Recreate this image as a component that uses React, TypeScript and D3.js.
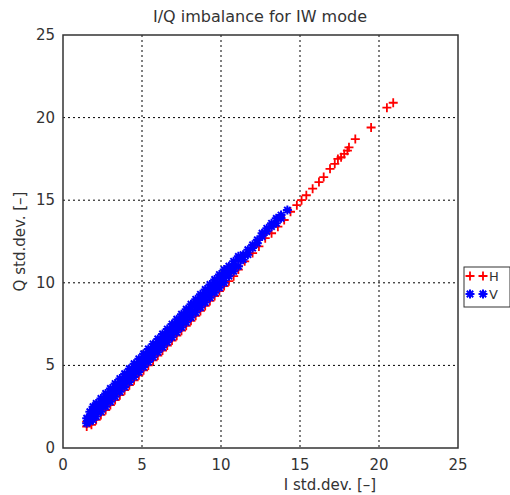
import React from "react";
import * as d3 from "d3";

// rows: [I, Q values...]
const redRows: number[][] = [
  [1.5, 1.3, 1.6], [1.8, 1.4, 1.8], [2.1, 1.7, 2.1], [2.4, 2.0, 2.4], [2.7, 2.3, 2.6],
  [3.0, 2.6, 2.9], [3.3, 2.9, 3.2], [3.6, 3.2, 3.5], [3.9, 3.5, 3.8], [4.2, 3.8, 4.1],
  [4.5, 4.1, 4.4], [4.8, 4.4, 4.7], [5.1, 4.7, 5.0], [5.4, 5.0, 5.3], [5.7, 5.3, 5.6],
  [6.0, 5.6, 5.9], [6.3, 5.9, 6.2], [6.6, 6.2, 6.5], [6.9, 6.5, 6.8], [7.2, 6.8, 7.1],
  [7.5, 7.1, 7.4], [7.8, 7.4, 7.7], [8.1, 7.7, 8.0], [8.4, 8.0, 8.3], [8.7, 8.3, 8.6],
  [9.0, 8.6, 8.9], [9.3, 8.9, 9.2], [9.6, 9.2, 9.5], [9.9, 9.5, 9.8], [10.2, 9.8, 10.1],
  [10.5, 10.1, 10.4], [10.8, 10.4, 10.7], [11.1, 10.8, 11.0], [11.5, 11.3], [12.0, 11.8],
  [12.4, 12.2], [12.8, 12.7], [13.2, 13.0], [13.6, 13.4], [14.0, 13.8], [14.4, 14.3],
  [14.8, 14.7], [15.1, 15.0], [15.4, 15.3], [15.8, 15.7], [16.2, 16.1], [16.5, 16.4],
  [16.9, 16.9], [17.2, 17.2], [17.4, 17.5], [17.6, 17.6], [17.8, 17.8], [18.0, 18.0],
  [18.1, 18.2], [18.5, 18.7], [19.5, 19.4], [20.5, 20.6], [20.9, 20.9],
];

const blueRows: number[][] = [
  [1.5, 1.5, 1.8], [1.7, 1.6, 1.9, 2.2], [1.9, 1.7, 2.0, 2.3, 2.5], [2.1, 1.9, 2.2, 2.5, 2.7],
  [2.4, 2.2, 2.5, 2.8, 3.0], [2.7, 2.5, 2.8, 3.1, 3.3], [3.0, 2.8, 3.1, 3.4, 3.6],
  [3.3, 3.1, 3.4, 3.7, 3.9], [3.6, 3.4, 3.7, 4.0, 4.2], [3.9, 3.7, 4.0, 4.3, 4.5],
  [4.2, 4.0, 4.3, 4.6, 4.8], [4.5, 4.3, 4.6, 4.9, 5.1], [4.8, 4.6, 4.9, 5.2, 5.4],
  [5.1, 4.9, 5.2, 5.5, 5.7], [5.4, 5.2, 5.5, 5.8, 6.0], [5.7, 5.5, 5.8, 6.1, 6.3],
  [6.0, 5.8, 6.1, 6.4, 6.6], [6.3, 6.1, 6.4, 6.7, 6.9], [6.6, 6.4, 6.7, 7.0, 7.2],
  [6.9, 6.7, 7.0, 7.3, 7.5], [7.2, 7.0, 7.3, 7.6, 7.8], [7.5, 7.3, 7.6, 7.9, 8.1],
  [7.8, 7.6, 7.9, 8.2, 8.4], [8.1, 7.9, 8.2, 8.5, 8.7], [8.4, 8.2, 8.5, 8.8, 9.0],
  [8.7, 8.5, 8.8, 9.1, 9.3], [9.0, 8.8, 9.1, 9.4, 9.6], [9.3, 9.1, 9.4, 9.7, 9.9],
  [9.6, 9.4, 9.7, 10.0, 10.2], [9.9, 9.7, 10.0, 10.3, 10.5], [10.2, 10.0, 10.3, 10.6, 10.8],
  [10.5, 10.4, 10.7, 11.0], [10.8, 10.7, 11.0, 11.3], [11.1, 11.0, 11.4, 11.6],
  [11.4, 11.4, 11.7], [11.7, 11.7, 12.0], [12.0, 12.1, 12.3], [12.3, 12.4, 12.6],
  [12.6, 12.8, 13.0], [12.9, 13.1, 13.3], [13.2, 13.4, 13.6], [13.5, 13.6, 13.9],
  [13.8, 13.9, 14.1], [14.2, 14.4],
];

const xTicks = [0, 5, 10, 15, 20, 25];
const yTicks = [0, 5, 10, 15, 20, 25];

const toPoints = (rows: number[][]) =>
  rows.flatMap((r) => r.slice(1).map((q) => [r[0], q] as [number, number]));

export default function App() {
  const left = 63, right = 458, top = 35, bottom = 448;
  const x = d3.scaleLinear().domain([0, 25]).range([left, right]);
  const y = d3.scaleLinear().domain([0, 25]).range([bottom, top]);
  const s = 4.5;
  const font = "DejaVu Sans, sans-serif";
  const plus = (cx: number, cy: number, k: number) => (
    <path key={k} d={`M${cx - s},${cy}H${cx + s}M${cx},${cy - s}V${cy + s}`} stroke="#ff0000" strokeWidth={1.8} />
  );
  const star = (cx: number, cy: number, k: number, c = "#0000ff") => (
    <path
      key={k}
      d={`M${cx - s},${cy}H${cx + s}M${cx},${cy - s}V${cy + s}M${cx - 3.2},${cy - 3.2}L${cx + 3.2},${cy + 3.2}M${cx - 3.2},${cy + 3.2}L${cx + 3.2},${cy - 3.2}`}
      stroke={c}
      strokeWidth={2}
    />
  );
  return (
    <svg width={510} height={495} style={{ position: "absolute", left: 0, top: 0, background: "#fff" }}>
      <text x={260} y={22} textAnchor="middle" fontFamily={font} fontSize={16} fill="#333">I/Q imbalance for IW mode</text>
      {xTicks.slice(1, -1).map((t) => (
        <line key={"gx" + t} x1={x(t)} x2={x(t)} y1={top} y2={bottom} stroke="#000" strokeDasharray="2,3" />
      ))}
      {yTicks.slice(1, -1).map((t) => (
        <line key={"gy" + t} x1={left} x2={right} y1={y(t)} y2={y(t)} stroke="#000" strokeDasharray="2,3" />
      ))}
      {toPoints(redRows).map(([a, b], i) => plus(x(a), y(b), i))}
      {toPoints(blueRows).map(([a, b], i) => star(x(a), y(b), i))}
      <rect x={left} y={top} width={right - left} height={bottom - top} fill="none" stroke="#333" strokeWidth={1.5} />
      {xTicks.map((t) => (
        <text key={"xt" + t} x={x(t)} y={470} textAnchor="middle" fontFamily={font} fontSize={15} fill="#333">{t}</text>
      ))}
      {yTicks.map((t) => (
        <text key={"yt" + t} x={left - 8} y={y(t) + 5} textAnchor="end" fontFamily={font} fontSize={15} fill="#333">{t}</text>
      ))}
      <text x={330} y={490} textAnchor="middle" fontFamily={font} fontSize={15} fill="#333">I std.dev. [–]</text>
      <text transform={`translate(25,${(top + bottom) / 2}) rotate(-90)`} textAnchor="middle" fontFamily={font} fontSize={15} fill="#333">Q std.dev. [–]</text>
      <rect x={464} y={267} width={46} height={40} fill="#fff" stroke="#333" />
      {plus(470, 276, 9001)}
      {plus(483, 276, 9002)}
      <text x={489} y={281} fontFamily={font} fontSize={13} fill="#333">H</text>
      {star(470, 294, 9003)}
      {star(483, 294, 9004)}
      <text x={489} y={299} fontFamily={font} fontSize={13} fill="#333">V</text>
    </svg>
  );
}
